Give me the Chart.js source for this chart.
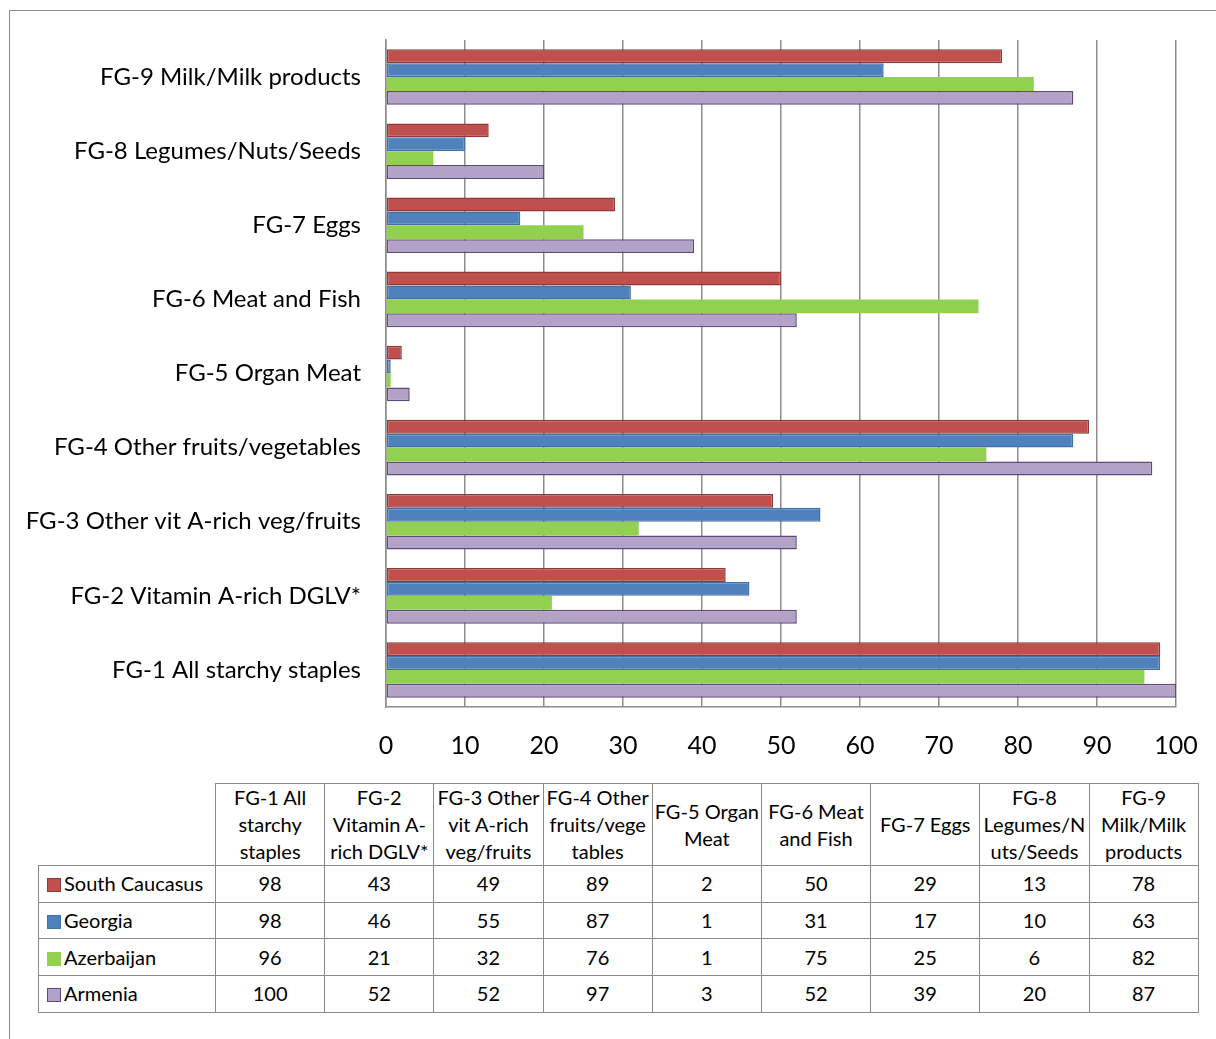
<!DOCTYPE html>
<html>
<head>
<meta charset="utf-8">
<script src="https://cdn.jsdelivr.net/npm/chart.js@4.4.0/dist/chart.umd.min.js"></script>
<style>
  body { margin: 0; background: #fff; width: 1216px; height: 1039px; overflow: hidden; position: relative; font-family: Lato, sans-serif; }
  #frame { position: absolute; left: 9px; top: 10px; width: 1400px; height: 1200px; border: 1.5px solid #8a8a8a; box-sizing: border-box; }
  #chartBox { position: absolute; left: 0; top: 0; }
  #tbl { position: absolute; left: 38px; top: 783px; border-collapse: collapse; table-layout: fixed; font-size: 20px; color: #000; }
  #tbl td { border: 1.5px solid #8a8a8a; text-align: center; vertical-align: middle; padding: 0; line-height: 27px; white-space: nowrap; }
  #tbl tr.head td { height: 80px; }
  #tbl tr.row td { height: 35.7px; }
  #tbl td.blank { border: none; }
  #tbl td.name { text-align: left; padding-left: 8px; }
  .key { display: inline-block; width: 14px; height: 14px; box-sizing: border-box; border: 1.5px solid; margin-right: 3px; vertical-align: -1px; }
</style>
</head>
<body>
<div id="frame"></div>
<canvas id="chartBox" width="1216" height="780"></canvas>
<table id="tbl"></table>
<script>
const categories = ['FG-1 All starchy staples', 'FG-2 Vitamin A-rich DGLV*', 'FG-3 Other vit A-rich veg/fruits',
  'FG-4 Other fruits/vegetables', 'FG-5 Organ Meat', 'FG-6 Meat and Fish', 'FG-7 Eggs',
  'FG-8 Legumes/Nuts/Seeds', 'FG-9 Milk/Milk products']
// same names, wrapped the way the data table shows them
const headerLines = [['FG-1 All', 'starchy', 'staples'], ['FG-2', 'Vitamin A-', 'rich DGLV*'],
  ['FG-3 Other', 'vit A-rich', 'veg/fruits'], ['FG-4 Other', 'fruits/vege', 'tables'], ['FG-5 Organ', 'Meat'],
  ['FG-6 Meat', 'and Fish'], ['FG-7 Eggs'], ['FG-8', 'Legumes/N', 'uts/Seeds'], ['FG-9', 'Milk/Milk', 'products']]
const seriesNames = ['South Caucasus', 'Georgia', 'Azerbaijan', 'Armenia']
const southCaucasus = [98, 43, 49, 89, 2, 50, 29, 13, 78]
const georgia = [98, 46, 55, 87, 0.6, 31, 17, 10, 63]
const azerbaijan = [96, 21, 32, 76, 0.6, 75, 25, 6, 82]
const armenia = [100, 52, 52, 97, 3, 52, 39, 20, 87]
const xTicks = [0, 10, 20, 30, 40, 50, 60, 70, 80, 90, 100]

const fills = ['#C0504D', '#4F81BD', '#92D050', '#B3A2C7']
const borders = ['#8E3A38', '#4270A8', '#92D050', '#604A7B']
const seriesValues = [southCaucasus, georgia, azerbaijan, armenia]

const datasets = seriesNames.map((name, i) => ({
  label: name,
  data: seriesValues[i],
  backgroundColor: fills[i],
  borderColor: borders[i],
  borderWidth: i === 2 ? 0 : 1.5,
  borderSkipped: false,
  categoryPercentage: 0.75,
  barPercentage: 1
}))

new Chart(document.getElementById('chartBox'), {
  type: 'bar',
  data: { labels: categories, datasets: datasets },
  options: {
    indexAxis: 'y',
    responsive: false,
    animation: false,
    devicePixelRatio: 1,
    layout: { padding: { left: 0, top: 40, right: 0, bottom: 13 } },
    plugins: { legend: { display: false }, tooltip: { enabled: false } },
    scales: {
      x: {
        min: 0, max: 100,
        afterBuildTicks: (scale) => { scale.ticks = xTicks.map(v => ({ value: v })) },
        afterFit: (scale) => { scale.height = 60; scale.paddingLeft = 0; scale.paddingRight = 40 },
        grid: { color: '#8c8c8c', lineWidth: 1.5, drawTicks: false },
        border: { display: true, color: '#8c8c8c', width: 1.5 },
        ticks: { color: '#000', padding: 24, font: { family: 'Lato', size: 25 } }
      },
      y: {
        reverse: true,
        afterFit: (scale) => { scale.width = 386 },
        grid: { display: false, drawTicks: false },
        border: { display: true, color: '#8c8c8c', width: 1.5 },
        ticks: { color: '#000', padding: 25, font: { family: 'Lato', size: 24 } }
      }
    }
  }
})

// data table under the chart
const tbl = document.getElementById('tbl')
let html = '<colgroup><col style="width:177px">' + categories.map(() => '<col style="width:109.2px">').join('') + '</colgroup>'
html += '<tr class="head"><td class="blank"></td>' + headerLines.map(l => '<td>' + l.join('<br>') + '</td>').join('') + '</tr>'
seriesNames.forEach((name, i) => {
  html += '<tr class="row"><td class="name"><span class="key" style="background:' + fills[i] + ';border-color:' + borders[i] + '"></span>' + name + '</td>'
  html += seriesValues[i].map(v => '<td>' + Math.round(v) + '</td>').join('') + '</tr>'
})
tbl.innerHTML = html
</script>
</body>
</html>
